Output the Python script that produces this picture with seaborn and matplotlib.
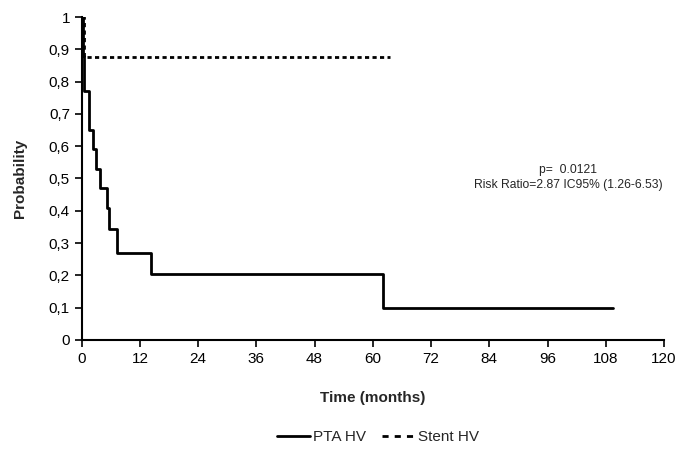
import matplotlib
matplotlib.use("Agg")
import matplotlib.pyplot as plt
import numpy as np
import pandas as pd
import seaborn as sns
from matplotlib.ticker import FuncFormatter
from matplotlib.lines import Line2D

# Kaplan-Meier style step data
pta_time = [0, 0.3, 0.5, 1.5, 2.4, 3.0, 3.7, 5.3, 5.6, 7.3, 14.2, 62.0, 109.4]
pta_surv = [1.0, 0.88, 0.77, 0.65, 0.59, 0.53, 0.47, 0.41, 0.345, 0.27, 0.205, 0.10, 0.10]
stent_time = [0, 0.4, 63.5]
stent_surv = [1.0, 0.875, 0.875]
groups = ["PTA HV", "Stent HV"]

data = pd.concat([
    pd.DataFrame({"time": pta_time, "surv": pta_surv, "group": groups[0]}),
    pd.DataFrame({"time": stent_time, "surv": stent_surv, "group": groups[1]}),
])

sns.set_style("ticks")
plt.rcParams["font.family"] = ["Liberation Sans", "DejaVu Sans"]

fig = plt.figure(figsize=(6.81, 4.49), dpi=100)
ax = fig.add_axes([0.120, 0.243, 0.855, 0.719])

sns.lineplot(data=data, x="time", y="surv", hue="group", style="group",
             palette=["black", "black"], dashes={"PTA HV": "", "Stent HV": (1.5, 1.2)},
             drawstyle="steps-post", estimator=None, sort=False, linewidth=2,
             legend=False, ax=ax)

ax.set_xlim(0, 120)
ax.set_ylim(0, 1)
ax.set_xticks(np.arange(0, 121, 12))
ax.set_yticks(np.arange(0, 1.01, 0.1))
ax.yaxis.set_major_formatter(FuncFormatter(lambda v, p: "0" if abs(v) < 1e-9 else ("1" if abs(v - 1) < 1e-9 else f"{v:.1f}".replace(".", ","))))
ax.tick_params(axis="both", labelsize=11, direction="out", length=5, width=1.2, colors="black")
for s in ["top", "right"]:
    ax.spines[s].set_visible(False)
for s in ["left", "bottom"]:
    ax.spines[s].set_linewidth(1.5)
    ax.spines[s].set_color("black")

ax.set_xlabel("Time (months)", fontsize=11, fontweight="bold", labelpad=18)
ax.set_ylabel("Probability", fontsize=11, fontweight="bold", labelpad=16)

ax.text(0.835, 0.503, "p=  0.0121\nRisk Ratio=2.87 IC95% (1.26-6.53)", transform=ax.transAxes,
        ha="center", va="center", fontsize=8.7, linespacing=1.4)

handles = [Line2D([], [], color="black", lw=2),
           Line2D([], [], color="black", lw=2, dashes=(2.2, 2.2))]
fig.legend(handles, groups, loc="center", bbox_to_anchor=(0.555, 0.027), ncol=2,
           frameon=False, fontsize=11, handlelength=2.2, handletextpad=0.2, columnspacing=1.0)

fig.savefig("out.png", dpi=100)
